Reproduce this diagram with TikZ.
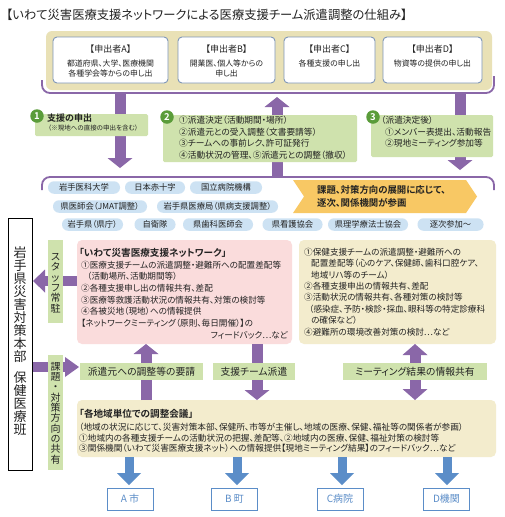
\documentclass[tikz,border=0pt]{standalone}
\usepackage{fontspec}
\setmainfont{Noto Sans CJK JP}[CharacterWidth=AlternateProportional,BoldFont={Noto Sans CJK JP Bold}]
\usetikzlibrary{arrows.meta}
\definecolor{pur}{HTML}{8A67A8}
\definecolor{grn}{HTML}{CFE2AD}
\definecolor{dgrn}{HTML}{5A9C3A}
\definecolor{tanA}{HTML}{E9E1B6}
\definecolor{tanB}{HTML}{F3ECCD}
\definecolor{pnk}{HTML}{FADCDC}
\definecolor{pillc}{HTML}{CDE2F3}
\definecolor{org}{HTML}{F8C864}
\definecolor{blu}{HTML}{5B8DC8}
\definecolor{bgray}{HTML}{7E96B8}
\definecolor{txtc}{HTML}{222222}
\newcommand\fsz[2]{\fontsize{#1}{#2}\selectfont}
\tikzset{
  txt/.style={inner sep=0pt, align=left, text=txtc},
  reqbox/.style={draw=bgray, line width=0.9pt, fill=white, rounded corners=4pt, inner sep=0pt},
  gbox/.style={fill=grn, rounded corners=1.5pt, inner sep=0pt},
  numc/.style={circle, fill=dgrn, text=white, inner sep=0pt, minimum size=13.5pt, font=\bfseries\fsz{9.5}{9.5}},
  pillbox/.style={fill=pillc, rounded corners=6pt, inner sep=0pt, minimum height=12.5pt, font=\fsz{8.3}{9}, text=txtc},
  softbox/.style={rounded corners=5pt, inner sep=0pt},
  parrow/.style={draw=pur, line width=11pt, -{Triangle[width=25pt,length=10pt,line width=0pt]}},
  pdarrow/.style={draw=pur, line width=11pt, {Triangle[width=25pt,length=11pt,line width=0pt]}-{Triangle[width=25pt,length=11pt,line width=0pt]}},
  barrow/.style={draw=blu, line width=9pt, -{Triangle[width=24pt,length=12pt,line width=0pt]}},
  bracket/.style={draw=pur, line width=1.8pt, rounded corners=8pt},
  dest/.style={draw=blu, line width=0.8pt, fill=white, inner sep=0pt, minimum width=46pt, minimum height=22pt, text=blu, font=\fsz{10}{10}},
  midlab/.style={fill=grn, inner sep=0pt, minimum height=17pt, font=\fsz{9.8}{10}, text=txtc},
}
\begin{document}
\begin{tikzpicture}[x=1pt,y=-1pt]
\useasboundingbox (0,0) rectangle (504,517);
\fill[white] (0,0) rectangle (504,517);

% title
\node[txt, anchor=west, font=\fsz{12.3}{13}] (title) at (6,14.5) {【いわて災害医療支援ネットワークによる医療支援チーム派遣調整の仕組み】};

% top box with requesters
\node[fill=tanA, rounded corners=6pt, inner sep=0pt, minimum width=446pt, minimum height=59pt] (topbox) at (269,60.5) {};
\node[reqbox, minimum width=115pt, minimum height=46pt] (reqA) at (110.5,60) {};
\node[reqbox, minimum width=97pt, minimum height=46pt] (reqB) at (226.5,60) {};
\node[reqbox, minimum width=91pt, minimum height=46pt] (reqC) at (329.5,60) {};
\node[reqbox, minimum width=99pt, minimum height=46pt] (reqD) at (432.5,60) {};
\node[txt, font=\fsz{9}{9}] (tA) at (110.5,49) {【申出者A】};
\node[txt, font=\fsz{9}{9}] (tB) at (226.5,49) {【申出者B】};
\node[txt, font=\fsz{9}{9}] (tC) at (329.5,49) {【申出者C】};
\node[txt, font=\fsz{9}{9}] (tD) at (432.5,49) {【申出者D】};
\node[txt, align=center, anchor=north, font=\fsz{7.9}{10.2}] (xA) at (110.5,59.2) {都道府県、大学、医療機関\\各種学会等からの申し出};
\node[txt, align=center, anchor=north, font=\fsz{7.9}{10.2}] (xB) at (226.5,59.2) {開業医、個人等からの\\申し出};
\node[txt, align=center, anchor=north, font=\fsz{7.9}{10.2}] (xC) at (329.5,59.2) {各種支援の申し出};
\node[txt, align=center, anchor=north, font=\fsz{7.9}{10.2}] (xD) at (432.5,59.2) {物資等の提供の申し出};

% brackets
\coordinate (b1s) at (42,80);
\coordinate (b1e) at (494,76);
\draw[bracket] (b1s) -- (42,93) -- (494,93) -- (b1e);
\coordinate (b2s) at (42,190);
\coordinate (b2e) at (494,190);
\draw[bracket] (b2s) -- (42,177) -- (494,177) -- (b2e);

% purple arrows between brackets
\coordinate (a1s) at (120,93);  \coordinate (a1e) at (120,168);
\coordinate (a2s) at (277,177); \coordinate (a2e) at (277,97);
\coordinate (a3s) at (460,93);  \coordinate (a3e) at (460,170);
\draw[parrow] (a1s) -- (a1e);
\draw[parrow] (a2s) -- (a2e);
\draw[parrow] (a3s) -- (a3e);

% green step boxes
\node[gbox, minimum width=113pt, minimum height=22pt] (g1) at (91.5,125) {};
\node[gbox, minimum width=194pt, minimum height=47pt] (g2) at (260,138.5) {};
\node[gbox, minimum width=122pt, minimum height=42pt] (g3) at (432,136) {};
\node[numc] (n1) at (37,116) {1};
\node[numc] (n2) at (167,117) {2};
\node[numc] (n3) at (373,117) {3};
\node[txt, anchor=west, font=\bfseries\fsz{9}{9}] (g1a) at (47,118.5) {支援の申出};
\node[txt, anchor=west, font=\fsz{6.5}{7}] (g1b) at (48,128.5) {（※現地への直接の申出を含む）};
\node[txt, anchor=north west, font=\fsz{8.7}{11.7}] (g2t) at (179,115.7) {①派遣決定（活動期間・場所）\\②派遣元との受入調整（文書要請等）\\③チームへの事前レク、許可証発行\\④活動状況の管理、⑤派遣元との調整（撤収）};
\node[txt, anchor=west, font=\fsz{8.7}{9}] (g3a) at (381,120) {（派遣決定後）};
\node[txt, anchor=north west, font=\fsz{8.7}{11.5}] (g3b) at (385,127.7) {①メンバー表提出、活動報告\\②現地ミーティング参加等};

% pills
\node[pillbox, minimum width=72pt] (p11) at (84,187.5) {岩手医科大学};
\node[pillbox, minimum width=60pt] (p12) at (155,187.5) {日本赤十字};
\node[pillbox, minimum width=72pt] (p13) at (226,187.5) {国立病院機構};
\node[pillbox, minimum width=94pt] (p21) at (100,206.5) {県医師会（JMAT調整）};
\node[pillbox, minimum width=121pt] (p22) at (217.5,206.5) {岩手県医療局（県病支援調整）};
\node[pillbox, minimum width=61pt] (p31) at (92.5,224.5) {岩手県（県庁）};
\node[pillbox, minimum width=41pt] (p32) at (155,224.5) {自衛隊};
\node[pillbox, minimum width=70pt] (p33) at (218,224.5) {県歯科医師会};
\node[pillbox, minimum width=60pt] (p34) at (292.5,224.5) {県看護協会};
\node[pillbox, minimum width=80pt] (p35) at (368,224.5) {県理学療法士協会};
\node[pillbox, minimum width=66pt] (p36) at (450.5,224.5) {逐次参加～};

% orange chevron
\fill[org] (293,180) -- (466,180) -- (477,196.5) -- (466,213) -- (293,213) -- (304,196.5) -- cycle;
\node[txt, anchor=north west, font=\bfseries\fsz{9.4}{12.5}] (chev) at (317,185.3) {課題、対策方向の展開に応じて、\\逐次、関係機関が参画};

% left side arrows
\coordinate (l1s) at (77,281); \coordinate (l1e) at (33,281);
\draw[draw=pur, line width=10pt, -{Triangle[width=23pt,length=12pt,line width=0pt]}] (l1s) -- (l1e);
\coordinate (l2s) at (32,367); \coordinate (l2e) at (79,367);
\draw[draw=pur, line width=10pt, -{Triangle[width=20pt,length=14pt,line width=0pt]}] (l2s) -- (l2e);

% headquarters box
\node[draw=black, line width=1pt, fill=white, inner sep=0pt, minimum width=24pt, minimum height=252pt] (hq) at (20,344) {};
\node[txt, align=center, anchor=north, font=\fsz{13}{13}] (hqt) at (20,246.3) {岩\\手\\県\\災\\害\\対\\策\\本\\部\\[8pt]保\\健\\医\\療\\班};

% vertical green labels
\node[fill=grn, inner sep=0pt, minimum width=15pt, minimum height=83pt] (staff) at (55.5,281.5) {};
\node[txt, align=center, anchor=north, font=\fsz{10}{10.4}] (stafft) at (55.5,253) {ス\\タ\\ッ\\フ\\常\\駐};
\node[fill=grn, inner sep=0pt, minimum width=15pt, minimum height=115pt] (share) at (55.5,412.5) {};
\node[txt, align=center, anchor=north, font=\fsz{10}{10.33}] (sharet) at (55.5,362) {課\\題\\・\\対\\策\\方\\向\\の\\共\\有};

% pink network box
\node[softbox, fill=pnk, minimum width=215pt, minimum height=104pt] (pink) at (184.5,292) {};
\node[txt, anchor=west, font=\bfseries\fsz{9.6}{10}] (pinkh) at (79,253) {「いわて災害医療支援ネットワーク」};
\node[txt, anchor=north west, font=\fsz{8.6}{11.67}] (pinkb) at (81,260.7) {①医療支援チームの派遣調整・避難所への配置差配等\\\hspace*{6pt}（活動場所、活動期間等）\\②各種支援申し出の情報共有、差配\\③医療等救護活動状況の情報共有、対策の検討等\\④各被災地（現地）への情報提供\\【ネットワークミーティング（原則、毎日開催）】の};
\node[txt, anchor=east, font=\fsz{8.6}{9}] (pinkf) at (288,335) {フィードバック…など};

% tan health box
\node[softbox, fill=tanB, minimum width=197pt, minimum height=104pt] (health) at (397.5,292) {};
\node[txt, anchor=north west, font=\fsz{8.6}{11.45}] (healtht) at (304,247.7) {①保健支援チームの派遣調整・避難所への\\\hspace*{7pt}配置差配等（心のケア、保健師、歯科口腔ケア、\\\hspace*{7pt}地域リハ等のチーム）\\②各種支援申出の情報共有、差配\\③活動状況の情報共有、各種対策の検討等\\\hspace*{5pt}（感染症、予防・検診・採血、眼科等の特定診療科\\\hspace*{7pt}の確保など）\\④避難所の環境改善対策の検討…など};

% bottom regional meeting box
\node[softbox, fill=tanB, minimum width=419pt, minimum height=57pt] (region) at (286.5,428.5) {};

% middle arrows
\coordinate (m1s) at (146,400); \coordinate (m1e) at (146,344);
\coordinate (m2s) at (257,344); \coordinate (m2e) at (257,400);
\coordinate (m3s) at (415,344); \coordinate (m3e) at (415,400);
\draw[parrow] (m1s) -- (m1e);
\draw[parrow] (m2s) -- (m2e);
\draw[pdarrow] (m3s) -- (m3e);

% middle labels
\node[midlab, minimum width=123pt] (req) at (141.5,371.5) {派遣元への調整等の要請};
\node[midlab, minimum width=82pt] (disp) at (254,371.5) {支援チーム派遣};
\node[midlab, minimum width=144pt] (meet) at (415,371.5) {ミーティング結果の情報共有};

% bottom box text
\node[txt, anchor=west, font=\bfseries\fsz{9.6}{10}] (regh) at (79,413.5) {「各地域単位での調整会議」};
\node[txt, anchor=north west, font=\fsz{8.65}{10.6}] (regb) at (79,422.8) {（地域の状況に応じて、災害対策本部、保健所、市等が主催し、地域の医療、保健、福祉等の関係者が参画）\\①地域内の各種支援チームの活動状況の把握、差配等、②地域内の医療、保健、福祉対策の検討等\\③関係機関（いわて災害医療支援ネット）への情報提供【現地ミーティング結果】のフィードバック…など};

% destinations
\node[dest] (dA) at (130,499) {A 市};
\node[dest] (dB) at (234.5,499) {B 町};
\node[dest] (dC) at (340,499) {C病院};
\node[dest] (dD) at (446.5,499) {D機関};
\coordinate (e1) at (129,457); \coordinate (e2) at (237,457);
\coordinate (e3) at (342,457); \coordinate (e4) at (447,457);
\draw[barrow] (e1) -- (129,485);
\draw[barrow] (e2) -- (237,485);
\draw[barrow] (e3) -- (342,485);
\draw[barrow] (e4) -- (447,485);
\end{tikzpicture}
\end{document}
